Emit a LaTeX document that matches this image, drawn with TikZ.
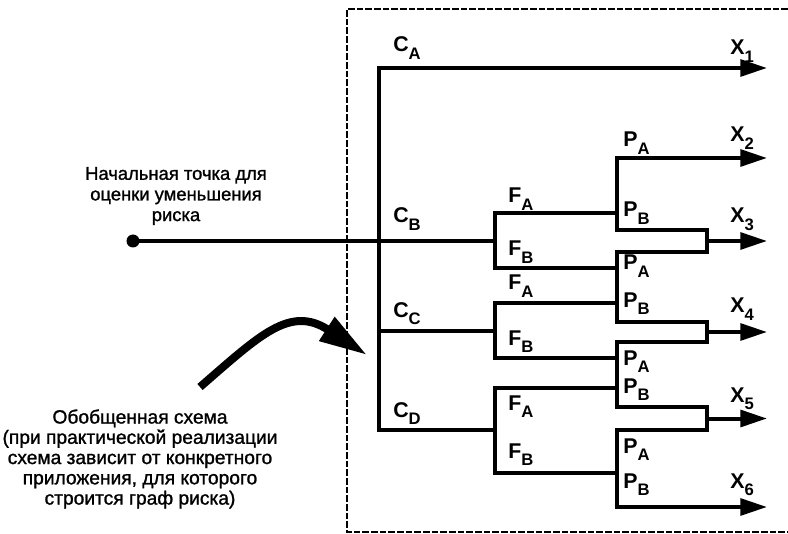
\documentclass[tikz,border=0pt]{standalone}
\usepackage{fontspec}
\setmainfont{Liberation Sans}
\newfontfamily\heavy[FakeBold=1.2]{Liberation Sans}
\usetikzlibrary{arrows.meta}
\newcommand{\ix}[2]{#1\raisebox{-5.5pt}{\fontsize{12.5}{13}\selectfont #2}}

\begin{document}
\begin{tikzpicture}[x=0.75pt,y=-0.75pt,
    wire/.style={line width=3pt},
    tip/.style={-{Triangle[length=20pt,width=12.5pt]}},
    tips/.style={{Triangle[length=20pt,width=12.5pt]}-{Triangle[length=20pt,width=12.5pt]}},
    lbl/.style={anchor=base west, inner sep=0pt, font=\bfseries\fontsize{16}{18}\selectfont},
    note/.style={align=center, inner sep=0pt}]
    \useasboundingbox (0,0) rectangle (788,534);
    % frame of the generic scheme
    \draw[line width=1.8pt, dash pattern=on 5pt off 1.5pt] (788,9) -- (347,9) -- (347,532) -- (788,532);

    % trunk C and branch points F
    \coordinate (cA) at (379,68);
    \coordinate (cC) at (379,331);
    \coordinate (cD) at (379,430);
    \coordinate (fB) at (495,241);
    \coordinate (fC) at (495,331);
    \coordinate (fD) at (495,430);
    % outputs
    \coordinate (x1) at (767,68);
    \coordinate (x2) at (767,158);
    \coordinate (x6) at (767,507);

    \draw[wire, tip] (fD) -- (cD) -- (cA) -- (x1);
    \draw[wire] (cC) -- (fC);
    \node[circle, fill, inner sep=0pt, minimum size=9.75pt] (start) at (133,241) {};
    \draw[wire] (start.center) -- (fB);

    % F branches
    \foreach \ya/\yb in {213/268, 303/358, 388/473}
        \draw[wire] (617,\ya) -- (495,\ya) -- (495,\yb) -- (617,\yb);

    % P chain
    \draw[wire, tips] (x2) -- (617,158) -- (617,230) -- (707,230) -- (707,252) -- (617,252)
        -- (617,322) -- (707,322) -- (707,342) -- (617,342)
        -- (617,407) -- (707,407) -- (707,430) -- (617,430) -- (617,507) -- (x6);
    \foreach \y in {241, 332, 418.5}
        \draw[wire, tip] (707,\y) -- (767,\y);

    % labels
    \node[lbl] (lCA) at (393,52) {\ix{C}{A}};
    \node[lbl] (lCB) at (393,223) {\ix{C}{B}};
    \node[lbl] (lCC) at (393,317) {\ix{C}{C}};
    \node[lbl] (lCD) at (393,417) {\ix{C}{D}};
    \foreach \y/\s [count=\i] in {203/A, 256/B, 290/A, 345/B, 410/A, 458/B}
        \node[lbl] (lF\i) at (508,\y) {\ix{F}{\s}};
    \foreach \y/\s [count=\i] in {147/A, 217/B, 270/A, 307/B, 365/A, 393/B, 453/A, 488/B}
        \node[lbl] (lP\i) at (623,\y) {\ix{P}{\s}};
    \foreach \y [count=\i] in {55, 142, 223, 313, 402, 488}
        \node[lbl] (lX\i) at (730,\y) {\ix{X}{\i}};

    % notes
    \node[note, font=\heavy\fontsize{13.8}{15.5}\selectfont] (nStart) at (176,196)
        {Начальная точка для\\оценки уменьшения\\риска};
    \node[note, font=\heavy\fontsize{14.4}{15.2}\selectfont] (nScheme) at (140,459)
        {Обобщенная схема\\(при практической реализации\\схема зависит от конкретного\\приложения, для которого\\строится граф риска)};
    \coordinate (bendFrom) at (200,387);
    \coordinate (bendTo) at (367,355);
    \draw[line width=6pt, -{Triangle[length=36pt,width=20pt]}] (bendFrom) .. controls (260,335) and (290,305) .. (bendTo);
\end{tikzpicture}
\end{document}
